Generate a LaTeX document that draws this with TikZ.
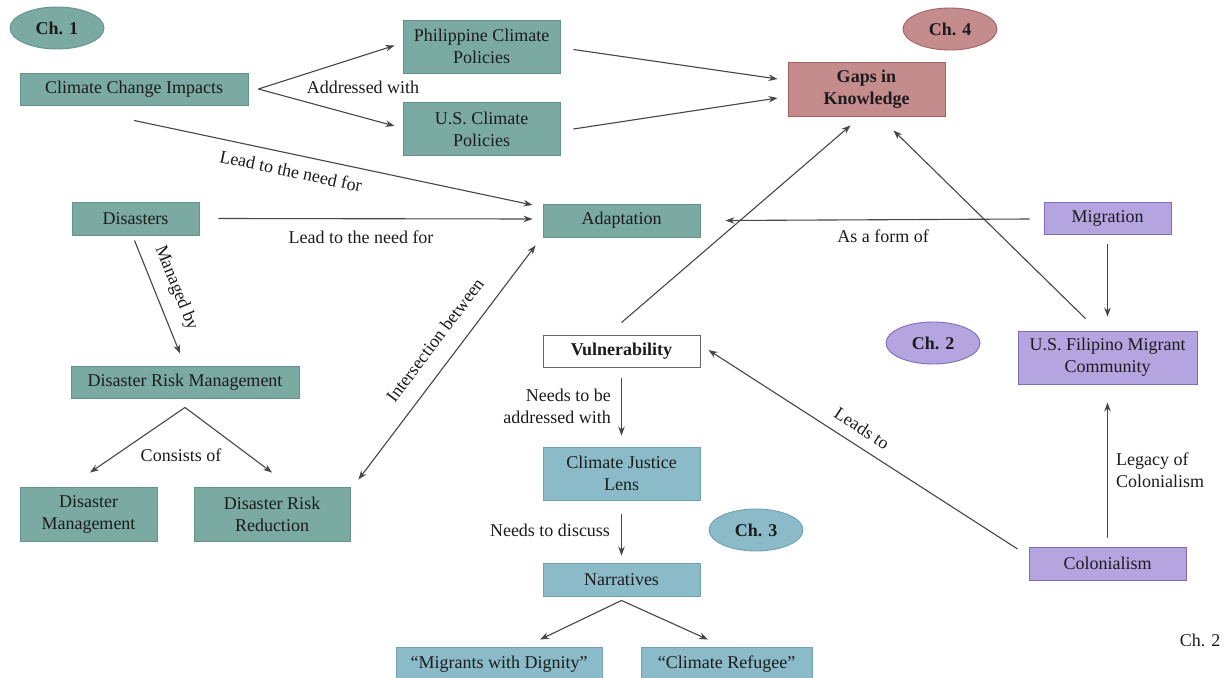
\documentclass[tikz,border=0pt]{standalone}
\usepackage{fontspec}
\setmainfont{Liberation Serif}[BoldFont={Liberation Serif Bold}]
\usetikzlibrary{shapes.geometric,arrows.meta,calc}
\definecolor{tealF}{RGB}{122,170,162}
\definecolor{tealD}{RGB}{98,148,140}
\definecolor{blueF}{RGB}{139,187,201}
\definecolor{blueD}{RGB}{112,162,178}
\definecolor{purpF}{RGB}{180,164,224}
\definecolor{purpD}{RGB}{128,108,188}
\definecolor{roseF}{RGB}{196,140,141}
\definecolor{roseD}{RGB}{162,98,100}
\definecolor{txt}{RGB}{28,28,28}
\definecolor{lineC}{RGB}{70,70,70}
\tikzset{
  every node/.style={font=\rmfamily\fontsize{18}{22}\selectfont, text=txt},
  box/.style={rectangle, line width=0.9pt, inner sep=0pt, align=center},
  tealbox/.style={box, fill=tealF, draw=tealD},
  bluebox/.style={box, fill=blueF, draw=blueD},
  purpbox/.style={box, fill=purpF, draw=purpD},
  rosebox/.style={box, fill=roseF, draw=roseD},
  whitebox/.style={box, fill=white, draw=black!60},
  chap/.style={ellipse, inner sep=0pt, line width=0.9pt, minimum width=94pt, minimum height=42pt, font=\rmfamily\fontsize{18}{22}\selectfont\bfseries},
  arr/.style={draw=lineC, line width=1.1pt, -{Stealth[length=9pt,width=6.5pt]}},
  darr/.style={draw=lineC, line width=1.1pt, {Stealth[length=9pt,width=6.5pt]}-{Stealth[length=9pt,width=6.5pt]}},
  lab/.style={inner sep=0pt, align=center}
}
\begin{document}
\begin{tikzpicture}[x=1pt,y=-1pt]
\useasboundingbox (0,0) rectangle (1225,677);
\clip (0,0) rectangle (1225,677);
\fill[white] (0,0) rectangle (1225,677);

% chapter ellipses
\node[chap, fill=tealF, draw=tealD] (ch1) at (57,28) {Ch. 1};
\node[chap, fill=roseF, draw=roseD] (ch4) at (950,29) {Ch. 4};
\node[chap, fill=purpF, draw=purpD] (ch2) at (933,343) {Ch. 2};
\node[chap, fill=blueF, draw=blueD] (ch3) at (756,530) {Ch. 3};

% boxes
\node[tealbox, minimum width=228pt, minimum height=32pt] (cci) at (134,89) {Climate Change Impacts};
\node[tealbox, minimum width=157pt, minimum height=53pt] (ppol) at (481.5,46.5) {Philippine Climate\\Policies};
\node[tealbox, minimum width=157pt, minimum height=53pt] (uspol) at (481.5,129) {U.S. Climate\\Policies};
\node[rosebox, minimum width=157pt, minimum height=54pt, font=\rmfamily\fontsize{18}{22}\selectfont\bfseries] (gaps) at (866.5,89) {Gaps in\\Knowledge};
\node[tealbox, minimum width=127pt, minimum height=33pt] (dis) at (135.5,218.5) {Disasters};
\node[tealbox, minimum width=157pt, minimum height=33pt] (adapt) at (621.5,220.5) {Adaptation};
\node[purpbox, minimum width=127pt, minimum height=32pt] (mig) at (1107.5,218) {Migration};
\node[whitebox, minimum width=157pt, minimum height=32pt, font=\rmfamily\fontsize{18}{22}\selectfont\bfseries] (vul) at (621.5,351) {Vulnerability};
\node[purpbox, minimum width=179pt, minimum height=53pt] (usfmc) at (1107.5,357.5) {U.S. Filipino Migrant\\Community};
\node[tealbox, minimum width=228pt, minimum height=32pt] (drm) at (185,382) {Disaster Risk Management};
\node[tealbox, minimum width=137pt, minimum height=54pt] (dm) at (88.5,514) {Disaster\\Management};
\node[tealbox, minimum width=156pt, minimum height=54pt] (drr) at (272,514) {Disaster Risk\\Reduction};
\node[bluebox, minimum width=157pt, minimum height=53pt] (cjl) at (621.5,473.5) {Climate Justice\\Lens};
\node[bluebox, minimum width=157pt, minimum height=33pt] (nar) at (621.5,579.5) {Narratives};
\node[bluebox, minimum width=206pt, minimum height=34pt] (migd) at (499,664) {``Migrants with Dignity''};
\node[bluebox, minimum width=171pt, minimum height=34pt] (cref) at (726.5,664) {``Climate Refugee''};
\node[purpbox, minimum width=157pt, minimum height=33pt] (col) at (1107.5,563.5) {Colonialism};
\node[lab] (ch2b) at (1200,640) {Ch. 2};

% connectors
\draw[arr] ([xshift=10pt]cci.east) -- ([xshift=-8pt,yshift=1pt]ppol.west);
\draw[arr] ([xshift=10pt]cci.east) -- ([xshift=-8pt,yshift=3pt]uspol.west);
\node[lab] (l1) at (363,87) {Addressed with};

\draw[arr] ([xshift=13pt,yshift=-3pt]ppol.east) -- ([xshift=-10pt,yshift=10pt]gaps.west);
\draw[arr] ([xshift=13pt]uspol.east) -- ([xshift=-10pt,yshift=-9pt]gaps.west);

\draw[arr] ([yshift=-15pt]cci.south) -- ([xshift=-10pt,yshift=15.5pt]adapt.west);
\node[lab, rotate=-12] (l2) at (291,171) {Lead to the need for};

\draw[arr] ([xshift=19pt]dis.east) -- ([xshift=-10pt,yshift=1.5pt]adapt.west);
\node[lab] (l3) at (361,237) {Lead to the need for};

\draw[arr] ([xshift=-1pt,yshift=-5pt]dis.south) -- ([xshift=-5pt,yshift=12pt]drm.north);
\node[lab, rotate=-68] (l4) at (176,288) {Managed by};

\draw[arr] ([yshift=-9pt]drm.south) -- ([xshift=1.5pt,yshift=14pt]dm.north);
\draw[arr] ([yshift=-9pt]drm.south) -- ([yshift=14pt]drr.north);
\node[lab] (l5) at (181,455) {Consists of};

\draw[darr] ([xshift=-7pt,yshift=-8pt]adapt.south west) -- ([xshift=8pt,yshift=7pt]drr.north east);
\node[lab, rotate=53] (l6) at (435,340) {Intersection between};

\draw[arr] ([yshift=12pt]vul.north) -- ([xshift=-16pt,yshift=-9pt]gaps.south);

\draw[arr] ([xshift=-14pt,yshift=-1pt]mig.west) -- ([xshift=25pt]adapt.east);
\node[lab] (l7) at (883,236) {As a form of};

\draw[arr] ([yshift=-10pt]mig.south) -- ([yshift=14pt]usfmc.north);
\draw[arr] ([xshift=-22pt,yshift=12pt]usfmc.north) -- ([xshift=27pt,yshift=-14pt]gaps.south);

\draw[arr] ([yshift=9pt]col.north) -- ([yshift=-18pt]usfmc.south);
\node[lab, anchor=west, align=left] (l8) at (1116,470) {Legacy of\\Colonialism};

\draw[arr] ([xshift=-11pt,yshift=14.5pt]col.west) -- ([xshift=8pt,yshift=1pt]vul.east);
\node[lab, rotate=-33] (l9) at (862,428) {Leads to};

\draw[arr] ([yshift=-11pt]vul.south) -- ([yshift=11pt]cjl.north);
\node[lab, anchor=east, align=right] (l10) at (611,406) {Needs to be\\addressed with};

\draw[arr] ([yshift=-14pt]cjl.south) -- ([yshift=7pt]nar.north);
\node[lab] (l11) at (550,530) {Needs to discuss};

\draw[arr] ([yshift=-4pt]nar.south) -- ([xshift=41pt,yshift=7pt]migd.north);
\draw[arr] ([yshift=-4pt]nar.south) -- ([xshift=-18.5pt,yshift=7pt]cref.north);
\end{tikzpicture}
\end{document}
